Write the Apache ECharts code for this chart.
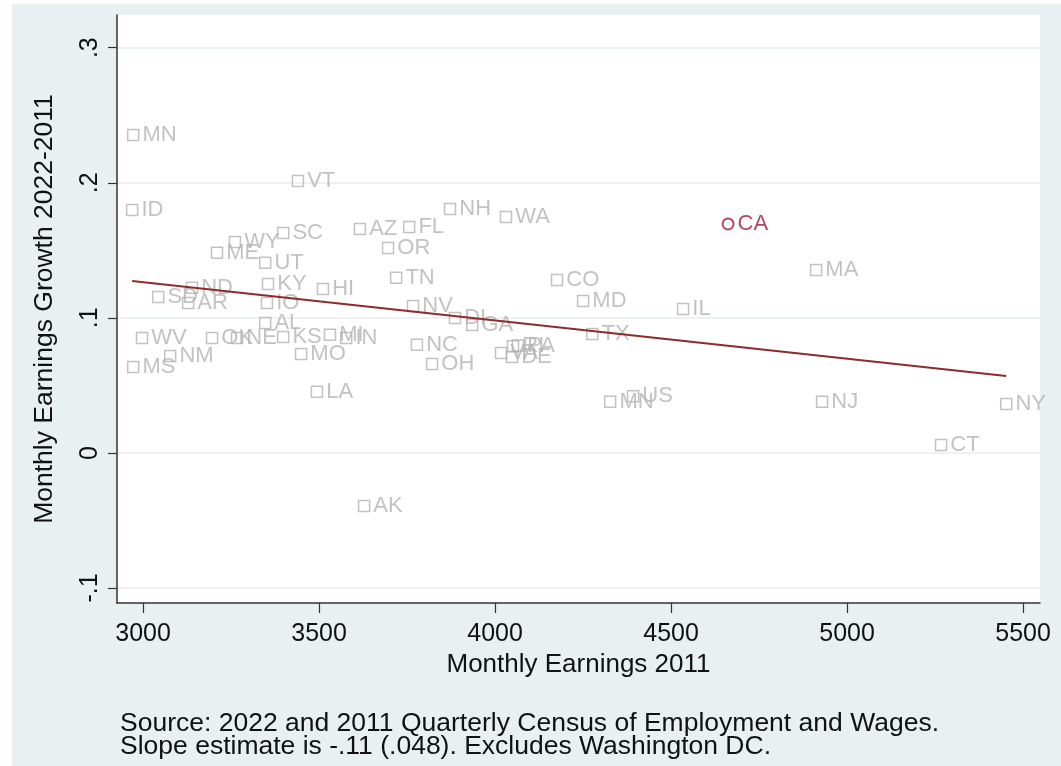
<!DOCTYPE html>
<html>
<head>
<meta charset="utf-8">
<script src="https://cdn.jsdelivr.net/npm/echarts@6/dist/echarts.min.js"></script>
<style>
  html, body { margin: 0; padding: 0; background: #ffffff; }
  #chart { width: 1061px; height: 766px; }
</style>
</head>
<body>
<div id="chart"></div>
<script>
// State labels, 2011 monthly earnings and 2011-2022 earnings growth
const states = ['MN','ID','VT','SC','WY','ME','UT','AZ','FL','OR','NH','WA','CA','TN','CO','MA','MD','IL',
  'HI','KY','IO','SD','ND','AR','NV','DI','GA','TX','AL','WV','OK','NE','KS','MI','IN','NC','NM','MO',
  'MS','OH','LA','AK','MN','US','NJ','NY','CT','VA','RI','PA','DE'];
const earnings2011 = [2972,2969,3440,3398,3261,3210,3347,3616,3756,3696,3872,4031,4662,3719,4176,4912,4250,4534,
  3511,3355,3352,3043,3139,3128,3767,3886,3935,4276,3347,2997,3196,3267,3398,3531,3577,3778,3077,3449,
  2972,3821,3494,3628,4327,4392,4929,5452,5267,4017,4051,4065,4048];
const growth = [0.2354,0.1799,0.2014,0.1629,0.1562,0.1481,0.1407,0.1658,0.1673,0.1518,0.1806,0.1747,0.1695,0.1296,0.1281,0.1355,0.1125,0.1066,
  0.1214,0.1251,0.1110,0.1155,0.1222,0.1110,0.1088,0.0999,0.0947,0.0881,0.0962,0.0851,0.0851,0.0851,0.0859,0.0874,0.0850,0.0800,0.0718,0.0733,
  0.0637,0.0659,0.0452,-0.0392,0.0378,0.0420,0.0378,0.0363,0.0059,0.0740,0.0790,0.0795,0.0711];
const highlighted = 'CA';

// Fitted regression line end points
const fitEarnings = [2969, 5452];
const fitGrowth = [0.1273, 0.0570];

// Axis ticks and labels
const xTicks = [3000, 3500, 4000, 4500, 5000, 5500];
const yTicks = [-0.1, 0, 0.1, 0.2, 0.3];
const yTickLabels = { '-0.1': '-.1', '0': '0', '0.1': '.1', '0.2': '.2', '0.3': '.3' };

const xTitle = 'Monthly Earnings 2011';
const yTitle = 'Monthly Earnings Growth 2022-2011';
const noteLines = [
  'Source: 2022 and 2011 Quarterly Census of Employment and Wages.',
  'Slope estimate is -.11 (.048). Excludes Washington DC.'
];

const FONT = "'Liberation Sans', Arial, Helvetica, sans-serif";
const GREY = '#b3b3b3';
const RED = '#a3183c';
const INK = '#111111';

const others = [], focus = [];
states.forEach((s, i) => {
  const d = { name: s, value: [earnings2011[i], growth[i]] };
  (s === highlighted ? focus : others).push(d);
});

const chart = echarts.init(document.getElementById('chart'), null, { renderer: 'canvas' });

chart.setOption({
  backgroundColor: '#ffffff',
  animation: false,
  textStyle: { fontFamily: FONT },
  graphic: [
    { type: 'rect', z: -100, silent: true,
      shape: { x: 12, y: 4, width: 1049, height: 762 },
      style: { fill: '#e9f0f2' } },
    { type: 'text', left: 120, top: 710, silent: true,
      style: { text: noteLines.join('\n'), font: '26.5px ' + FONT, fill: INK, lineHeight: 23.5 } }
  ],
  grid: {
    left: 117, right: 21, top: 15, bottom: 163,
    show: true, backgroundColor: '#ffffff', borderWidth: 0
  },
  xAxis: {
    type: 'value', min: 2926, max: 5548,
    name: xTitle, nameLocation: 'middle', nameGap: 45,
    nameTextStyle: { fontSize: 26, color: INK, fontFamily: FONT },
    axisLine: { show: true, onZero: false, lineStyle: { color: '#333', width: 1.5 } },
    axisTick: { show: true, length: 10, customValues: xTicks, lineStyle: { color: '#333', width: 1.2 } },
    axisLabel: { customValues: xTicks, fontSize: 25, color: INK, margin: 19, fontFamily: FONT,
      formatter: v => String(v) },
    splitLine: { show: false }
  },
  yAxis: {
    type: 'value', min: -0.1111, max: 0.3242,
    name: yTitle, nameLocation: 'middle', nameGap: 59, nameRotate: 90,
    nameTextStyle: { fontSize: 26.5, color: INK, fontFamily: FONT },
    axisLine: { show: true, onZero: false, lineStyle: { color: '#333', width: 1.5 } },
    axisTick: { show: true, length: 9, customValues: yTicks, lineStyle: { color: '#333', width: 1.2 } },
    axisLabel: {
      customValues: yTicks, rotate: 90, fontSize: 25, color: INK, margin: 14, fontFamily: FONT,
      formatter: v => yTickLabels[String(Math.round(v * 10) / 10)] ?? String(v)
    },
    splitLine: { show: true, lineStyle: { color: '#e6eef1', width: 1.5 } }
  },
  series: [
    {
      type: 'scatter', clip: false, symbol: 'rect', symbolSize: 11,
      itemStyle: { color: 'rgba(0,0,0,0)', borderColor: GREY, borderWidth: 1.5 },
      label: { show: true, position: 'right', distance: 3, formatter: '{b}', color: GREY, fontSize: 22, fontFamily: FONT },
      data: others, z: 2
    },
    {
      type: 'scatter', clip: false, symbol: 'circle', symbolSize: 11,
      itemStyle: { color: 'rgba(0,0,0,0)', borderColor: RED, borderWidth: 2 },
      label: { show: true, position: 'right', distance: 3, formatter: '{b}', color: RED, fontSize: 22, fontFamily: FONT },
      data: focus, z: 3
    },
    {
      type: 'line', clip: false, symbol: 'none', silent: true,
      lineStyle: { color: '#8e2b2b', width: 2 },
      data: fitEarnings.map((x, i) => [x, fitGrowth[i]]), z: 4
    }
  ]
});
</script>
</body>
</html>
